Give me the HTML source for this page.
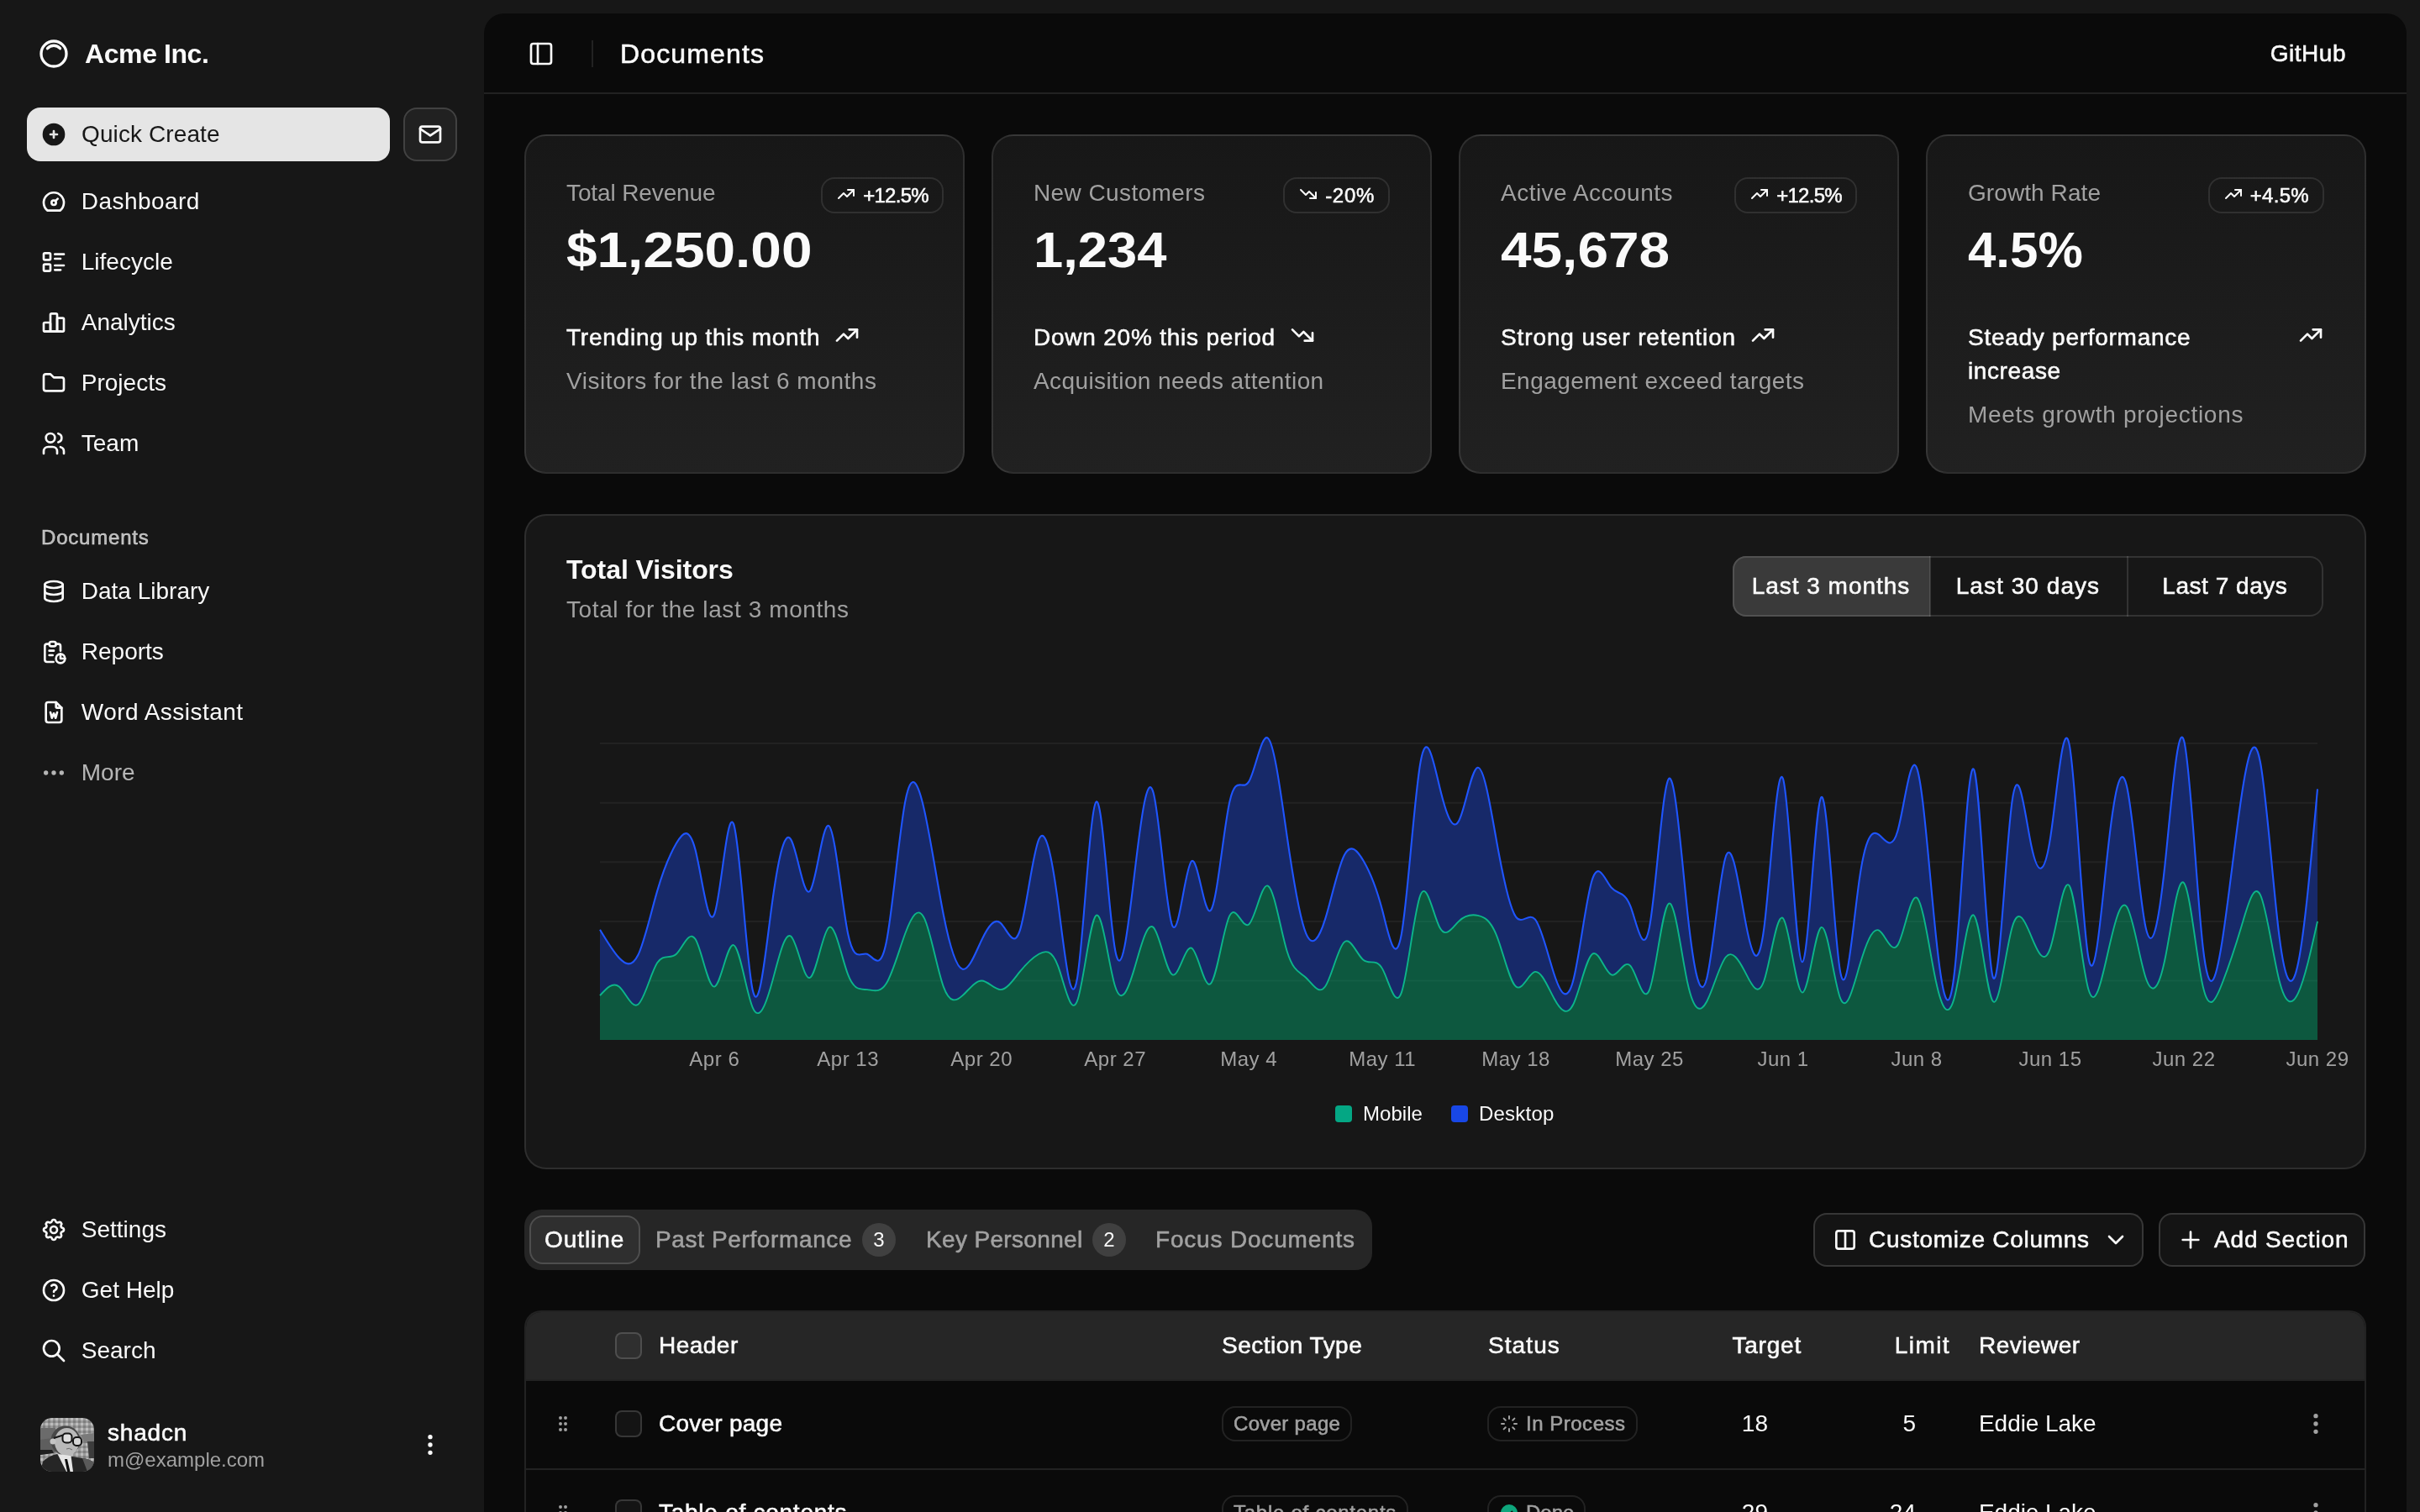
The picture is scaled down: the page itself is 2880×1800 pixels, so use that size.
<!DOCTYPE html>
<html><head><meta charset="utf-8">
<style>
*{box-sizing:border-box;margin:0;padding:0}
html,body{width:2880px;height:1800px;overflow:hidden;background:#171717}
body{font-family:"Liberation Sans",sans-serif;color:#fafafa}
#root{will-change:transform;zoom:2;position:relative;width:1440px;height:900px;overflow:hidden;background:#171717}
.abs{position:absolute}
.t{position:absolute;white-space:nowrap}
.card{position:absolute;border:1px solid rgba(255,255,255,0.1);border-radius:13px;background:#171717}
.sc{background:linear-gradient(to top, #212121, #171717)}
.m{-webkit-text-stroke:0.28px currentColor}
</style></head><body><div id="root">
<svg viewBox="0 0 24 24" style="position:absolute;fill:none;stroke:currentColor;stroke-width:2;stroke-linecap:round;stroke-linejoin:round;left:22px;top:22px;width:20px;height:20px"><circle cx="12" cy="12" r="9"/><path d="M7.5 8.2a6 6 0 0 1 9 0"/></svg>
<div class="t" style="left:50.5px;top:20px;font-size:16px;line-height:24px;font-weight:700;letter-spacing:-0.205px;">Acme Inc.</div>
<div class="abs" style="left:16px;top:64px;width:216px;height:32px;border-radius:8px;background:#e5e5e5"></div>
<svg viewBox="0 0 24 24" class="abs" style="left:24px;top:72px;width:16px;height:16px"><circle cx="12" cy="12" r="10" fill="#171717"/><path d="M12 9v6M9 12h6" stroke="#e5e5e5" stroke-width="2" stroke-linecap="round"/></svg>
<div class="t" style="left:48.5px;top:70px;font-size:14px;line-height:20px;font-weight:400;color:#171717;letter-spacing:0.054px;">Quick Create</div>
<div class="abs" style="left:240px;top:64px;width:32px;height:32px;border-radius:8px;border:1px solid rgba(255,255,255,0.15);background:rgba(255,255,255,0.045)"></div>
<svg viewBox="0 0 24 24" style="position:absolute;fill:none;stroke:currentColor;stroke-width:2;stroke-linecap:round;stroke-linejoin:round;left:248px;top:72px;width:16px;height:16px"><path d="M3 7a2 2 0 0 1 2 -2h14a2 2 0 0 1 2 2v10a2 2 0 0 1 -2 2h-14a2 2 0 0 1 -2 -2v-10z"/><path d="M3 7l9 6l9 -6"/></svg>
<svg viewBox="0 0 24 24" style="position:absolute;fill:none;stroke:currentColor;stroke-width:2;stroke-linecap:round;stroke-linejoin:round;left:24px;top:112px;width:16px;height:16px;"><path d="M12 13m-2 0a2 2 0 1 0 4 0a2 2 0 1 0 -4 0"/><path d="M13.45 11.55l2.05 -2.05"/><path d="M6.4 20a9 9 0 1 1 11.2 0z"/></svg>
<div class="t" style="left:48.4px;top:110px;font-size:14px;line-height:20px;font-weight:400;letter-spacing:0.225px;">Dashboard</div>
<svg viewBox="0 0 24 24" style="position:absolute;fill:none;stroke:currentColor;stroke-width:2;stroke-linecap:round;stroke-linejoin:round;left:24px;top:148px;width:16px;height:16px;"><path d="M13 5h8"/><path d="M13 9h5"/><path d="M13 15h8"/><path d="M13 19h5"/><path d="M3 4m0 1a1 1 0 0 1 1 -1h4a1 1 0 0 1 1 1v4a1 1 0 0 1 -1 1h-4a1 1 0 0 1 -1 -1z"/><path d="M3 14m0 1a1 1 0 0 1 1 -1h4a1 1 0 0 1 1 1v4a1 1 0 0 1 -1 1h-4a1 1 0 0 1 -1 -1z"/></svg>
<div class="t" style="left:48.4px;top:146px;font-size:14px;line-height:20px;font-weight:400;letter-spacing:0.000px;">Lifecycle</div>
<svg viewBox="0 0 24 24" style="position:absolute;fill:none;stroke:currentColor;stroke-width:2;stroke-linecap:round;stroke-linejoin:round;left:24px;top:184px;width:16px;height:16px;"><path d="M3 13a1 1 0 0 1 1 -1h4a1 1 0 0 1 1 1v6a1 1 0 0 1 -1 1h-4a1 1 0 0 1 -1 -1z"/><path d="M15 9a1 1 0 0 1 1 -1h4a1 1 0 0 1 1 1v10a1 1 0 0 1 -1 1h-4a1 1 0 0 1 -1 -1z"/><path d="M9 5a1 1 0 0 1 1 -1h4a1 1 0 0 1 1 1v14a1 1 0 0 1 -1 1h-4a1 1 0 0 1 -1 -1z"/><path d="M4 20h14"/></svg>
<div class="t" style="left:48.4px;top:182px;font-size:14px;line-height:20px;font-weight:400;letter-spacing:0.000px;">Analytics</div>
<svg viewBox="0 0 24 24" style="position:absolute;fill:none;stroke:currentColor;stroke-width:2;stroke-linecap:round;stroke-linejoin:round;left:24px;top:220px;width:16px;height:16px;"><path d="M5 4h4l3 3h7a2 2 0 0 1 2 2v8a2 2 0 0 1 -2 2h-14a2 2 0 0 1 -2 -2v-11a2 2 0 0 1 2 -2"/></svg>
<div class="t" style="left:48.4px;top:218px;font-size:14px;line-height:20px;font-weight:400;letter-spacing:0.000px;">Projects</div>
<svg viewBox="0 0 24 24" style="position:absolute;fill:none;stroke:currentColor;stroke-width:2;stroke-linecap:round;stroke-linejoin:round;left:24px;top:256px;width:16px;height:16px;"><path d="M9 7m-4 0a4 4 0 1 0 8 0a4 4 0 1 0 -8 0"/><path d="M3 21v-2a4 4 0 0 1 4 -4h4a4 4 0 0 1 4 4v2"/><path d="M16 3.13a4 4 0 0 1 0 7.75"/><path d="M21 21v-2a4 4 0 0 0 -3 -3.85"/></svg>
<div class="t" style="left:48.4px;top:254px;font-size:14px;line-height:20px;font-weight:400;letter-spacing:0.000px;">Team</div>
<svg viewBox="0 0 24 24" style="position:absolute;fill:none;stroke:currentColor;stroke-width:2;stroke-linecap:round;stroke-linejoin:round;left:24px;top:344px;width:16px;height:16px;"><path d="M12 6m-8 0a8 3 0 1 0 16 0a8 3 0 1 0 -16 0"/><path d="M4 6v6a8 3 0 0 0 16 0v-6"/><path d="M4 12v6a8 3 0 0 0 16 0v-6"/></svg>
<div class="t" style="left:48.4px;top:342px;font-size:14px;line-height:20px;font-weight:400;letter-spacing:0.000px;">Data Library</div>
<svg viewBox="0 0 24 24" style="position:absolute;fill:none;stroke:currentColor;stroke-width:2;stroke-linecap:round;stroke-linejoin:round;left:24px;top:380px;width:16px;height:16px;"><path d="M8 5h-2a2 2 0 0 0 -2 2v12a2 2 0 0 0 2 2h5.697"/><path d="M18 14v4h4"/><path d="M18 11v-4a2 2 0 0 0 -2 -2h-2"/><path d="M8 3m0 2a2 2 0 0 1 2 -2h2a2 2 0 0 1 2 2v0a2 2 0 0 1 -2 2h-2a2 2 0 0 1 -2 -2z"/><path d="M18 18m-4 0a4 4 0 1 0 8 0a4 4 0 1 0 -8 0"/><path d="M8 11h4"/><path d="M8 15h3"/></svg>
<div class="t" style="left:48.4px;top:378px;font-size:14px;line-height:20px;font-weight:400;letter-spacing:0.000px;">Reports</div>
<svg viewBox="0 0 24 24" style="position:absolute;fill:none;stroke:currentColor;stroke-width:2;stroke-linecap:round;stroke-linejoin:round;left:24px;top:416px;width:16px;height:16px;"><path d="M14 3v4a1 1 0 0 0 1 1h4"/><path d="M17 21h-10a2 2 0 0 1 -2 -2v-14a2 2 0 0 1 2 -2h7l5 5v11a2 2 0 0 1 -2 2z"/><path d="M9 12l1.333 5l1.667 -4l1.667 4l1.333 -5"/></svg>
<div class="t" style="left:48.4px;top:414px;font-size:14px;line-height:20px;font-weight:400;letter-spacing:0.230px;">Word Assistant</div>
<svg viewBox="0 0 24 24" style="position:absolute;fill:none;stroke:currentColor;stroke-width:2;stroke-linecap:round;stroke-linejoin:round;left:24px;top:452px;width:16px;height:16px;color:rgba(250,250,250,0.7);"><path d="M5 12m-1 0a1 1 0 1 0 2 0a1 1 0 1 0 -2 0"/><path d="M12 12m-1 0a1 1 0 1 0 2 0a1 1 0 1 0 -2 0"/><path d="M19 12m-1 0a1 1 0 1 0 2 0a1 1 0 1 0 -2 0"/></svg>
<div class="t" style="left:48.4px;top:450px;font-size:14px;line-height:20px;font-weight:400;color:rgba(250,250,250,0.7);letter-spacing:0.000px;">More</div>
<svg viewBox="0 0 24 24" style="position:absolute;fill:none;stroke:currentColor;stroke-width:2;stroke-linecap:round;stroke-linejoin:round;left:24px;top:724px;width:16px;height:16px;"><path d="M10.325 4.317c.426 -1.756 2.924 -1.756 3.35 0a1.724 1.724 0 0 0 2.573 1.066c1.543 -.94 3.31 .826 2.37 2.37a1.724 1.724 0 0 0 1.065 2.572c1.756 .426 1.756 2.924 0 3.35a1.724 1.724 0 0 0 -1.066 2.573c.94 1.543 -.826 3.31 -2.37 2.37a1.724 1.724 0 0 0 -2.572 1.065c-.426 1.756 -2.924 1.756 -3.35 0a1.724 1.724 0 0 0 -2.573 -1.066c-1.543 .94 -3.310 -.826 -2.37 -2.37a1.724 1.724 0 0 0 -1.065 -2.572c-1.756 -.426 -1.756 -2.924 0 -3.35a1.724 1.724 0 0 0 1.066 -2.573c-.94 -1.543 .826 -3.31 2.37 -2.37c1 .608 2.296 .07 2.572 -1.065z"/><path d="M9 12a3 3 0 1 0 6 0a3 3 0 0 0 -6 0"/></svg>
<div class="t" style="left:48.4px;top:722px;font-size:14px;line-height:20px;font-weight:400;letter-spacing:0.000px;">Settings</div>
<svg viewBox="0 0 24 24" style="position:absolute;fill:none;stroke:currentColor;stroke-width:2;stroke-linecap:round;stroke-linejoin:round;left:24px;top:760px;width:16px;height:16px;"><path d="M12 12m-9 0a9 9 0 1 0 18 0a9 9 0 1 0 -18 0"/><path d="M12 17l0 .01"/><path d="M12 13.5a1.5 1.5 0 0 1 1 -1.5a2.6 2.6 0 1 0 -3 -4"/></svg>
<div class="t" style="left:48.4px;top:758px;font-size:14px;line-height:20px;font-weight:400;letter-spacing:0.000px;">Get Help</div>
<svg viewBox="0 0 24 24" style="position:absolute;fill:none;stroke:currentColor;stroke-width:2;stroke-linecap:round;stroke-linejoin:round;left:24px;top:796px;width:16px;height:16px;"><path d="M10 10m-7 0a7 7 0 1 0 14 0a7 7 0 1 0 -14 0"/><path d="M21 21l-6 -6"/></svg>
<div class="t" style="left:48.4px;top:794px;font-size:14px;line-height:20px;font-weight:400;letter-spacing:0.000px;">Search</div>
<div class="t" style="left:24.5px;top:310px;font-size:12px;line-height:20px;font-weight:400;color:rgba(250,250,250,0.7);letter-spacing:0.400px;-webkit-text-stroke:0.28px currentColor;">Documents</div>
<svg class="abs" style="left:24px;top:844px;width:32px;height:32px" viewBox="0 0 64 64">
<defs><clipPath id="av"><rect x="0" y="0" width="64" height="64" rx="14"/></clipPath>
<pattern id="camo" width="6" height="6" patternUnits="userSpaceOnUse"><rect width="6" height="6" fill="#9a9a9a"/><rect width="3" height="3" fill="#bdbdbd"/><rect x="3" y="3" width="3" height="3" fill="#7f7f7f"/></pattern></defs>
<g clip-path="url(#av)">
<rect width="64" height="64" fill="url(#camo)"/>
<path d="M0 12 L18 12 L22 20 L14 26 L0 28Z" fill="#6b6b6b"/>
<path d="M0 26 L14 24 L20 40 L0 44Z" fill="#5e5e5e"/>
<path d="M48 20 L64 18 L64 30 L52 30Z" fill="#7a7a7a"/>
<path d="M56 28 L64 28 L64 48 L58 48Z" fill="#3c3c3c"/>
<path d="M0 38 L14 38 L16 42 L0 44Z" fill="#1f1f1f"/>
<circle cx="30" cy="27" r="17.5" fill="#474747"/>
<ellipse cx="31.5" cy="28.5" rx="14.5" ry="16.5" fill="#b9b9b9"/>
<circle cx="15" cy="28" r="3.5" fill="#c4c4c4"/>
<path d="M16 24 L27 20.5" stroke="#151515" stroke-width="2"/>
<rect x="26.5" y="18.5" width="11" height="11" rx="4" fill="#dedede" stroke="#151515" stroke-width="2"/>
<rect x="39" y="23" width="10" height="10" rx="4" fill="#d6d6d6" stroke="#151515" stroke-width="2"/>
<path d="M31 37 Q34 35 38 38" stroke="#6a6a6a" stroke-width="1" fill="none"/>
<path d="M0 64 L3 52 Q10 45 20 43 L30 47 L38 46 L50 48 Q60 49 64 54 L64 64Z" fill="#262626"/>
<path d="M50 48 Q60 49 64 54 L64 64 L56 64Z" fill="#5a5a5a"/>
<path d="M20.5 43 L31 64 L39 64 L36.5 45Z" fill="#e6e6e6"/>
<path d="M29 49 L32 49 L35.5 64 L32 64Z" fill="#0e0e0e"/>
</g></svg>
<div class="t" style="left:64px;top:843.75px;font-size:14px;line-height:17.5px;font-weight:400;letter-spacing:0.400px;-webkit-text-stroke:0.28px currentColor;">shadcn</div>
<div class="t" style="left:64px;top:861.25px;font-size:12px;line-height:15px;font-weight:400;color:#a1a1a1;letter-spacing:0.000px;">m@example.com</div>
<svg viewBox="0 0 24 24" style="position:absolute;fill:none;stroke:currentColor;stroke-width:2;stroke-linecap:round;stroke-linejoin:round;left:248px;top:852px;width:16px;height:16px"><path d="M12 12m-1 0a1 1 0 1 0 2 0a1 1 0 1 0 -2 0"/><path d="M12 19m-1 0a1 1 0 1 0 2 0a1 1 0 1 0 -2 0"/><path d="M12 5m-1 0a1 1 0 1 0 2 0a1 1 0 1 0 -2 0"/></svg>
<div class="abs" style="left:288px;top:8px;width:1144px;height:900px;background:#0a0a0a;border-radius:12px 12px 0 0"></div>
<div class="abs" style="left:288px;top:55px;width:1144px;height:1px;background:rgba(255,255,255,0.1)"></div>
<svg viewBox="0 0 24 24" style="position:absolute;fill:none;stroke:currentColor;stroke-width:2;stroke-linecap:round;stroke-linejoin:round;left:314px;top:24px;width:16px;height:16px"><rect width="18" height="18" x="3" y="3" rx="2"/><path d="M9 3v18"/></svg>
<div class="abs" style="left:352px;top:24px;width:1px;height:16px;background:rgba(255,255,255,0.1)"></div>
<div class="t" style="left:369px;top:20px;font-size:16px;line-height:24px;font-weight:400;letter-spacing:0.572px;-webkit-text-stroke:0.28px currentColor;">Documents</div>
<div class="t" style="left:1296px;top:22px;width:100px;text-align:right;font-size:14px;line-height:20px;letter-spacing:0.250px;-webkit-text-stroke:0.28px currentColor;">GitHub</div>
<div class="card sc" style="left:312px;top:80px;width:262px;height:202px">
<div class="t" style="left:24px;top:24px;font-size:14px;line-height:20px;font-weight:400;color:#a1a1a1;letter-spacing:-0.060px;">Total Revenue</div>
<div class="t" style="right:11.5px;top:24.5px;height:21.5px;border:1px solid rgba(255,255,255,0.1);border-radius:8px;font-size:12px;line-height:16px;padding:2px 8px;letter-spacing:-0.350px;-webkit-text-stroke:0.28px currentColor;"><svg viewBox="0 0 24 24" style="fill:none;stroke:currentColor;stroke-width:2;stroke-linecap:round;stroke-linejoin:round;display:inline-block;width:12px;height:12px;vertical-align:-1px;margin-right:4px"><path d="M3 17l6 -6l4 4l8 -8"/><path d="M14 7l7 0l0 7"/></svg>+12.5%</div>
<div class="t" style="left:24px;top:50px;font-size:30px;line-height:36px;font-weight:700;transform:scaleX(1.0956);transform-origin:0 0">$1,250.00</div>
<div class="t" style="left:24px;top:110px;font-size:14px;line-height:20px;display:flex;gap:8px"><span style="letter-spacing:0.386px;-webkit-text-stroke:0.28px currentColor;">Trending up this month</span><svg viewBox="0 0 24 24" style="fill:none;stroke:currentColor;stroke-width:2;stroke-linecap:round;stroke-linejoin:round;width:16px;height:16px;margin-top:0.5px"><path d="M3 17l6 -6l4 4l8 -8"/><path d="M14 7l7 0l0 7"/></svg></div>
<div class="t" style="left:24px;top:136px;font-size:14px;line-height:20px;font-weight:400;color:#a1a1a1;letter-spacing:0.280px;">Visitors for the last 6 months</div>
</div>
<div class="card sc" style="left:590px;top:80px;width:262px;height:202px">
<div class="t" style="left:24px;top:24px;font-size:14px;line-height:20px;font-weight:400;color:#a1a1a1;letter-spacing:0.202px;">New Customers</div>
<div class="t" style="right:24px;top:24.5px;height:21.5px;border:1px solid rgba(255,255,255,0.1);border-radius:8px;font-size:12px;line-height:16px;padding:2px 8px;letter-spacing:0.350px;-webkit-text-stroke:0.28px currentColor;"><svg viewBox="0 0 24 24" style="fill:none;stroke:currentColor;stroke-width:2;stroke-linecap:round;stroke-linejoin:round;display:inline-block;width:12px;height:12px;vertical-align:-1px;margin-right:4px"><path d="M3 7l6 6l4 -4l8 8"/><path d="M21 10l0 7l-7 0"/></svg>-20%</div>
<div class="t" style="left:24px;top:50px;font-size:30px;line-height:36px;font-weight:700;transform:scaleX(1.0551);transform-origin:0 0">1,234</div>
<div class="t" style="left:24px;top:110px;font-size:14px;line-height:20px;display:flex;gap:8px"><span style="letter-spacing:0.390px;-webkit-text-stroke:0.28px currentColor;">Down 20% this period</span><svg viewBox="0 0 24 24" style="fill:none;stroke:currentColor;stroke-width:2;stroke-linecap:round;stroke-linejoin:round;width:16px;height:16px;margin-top:0.5px"><path d="M3 7l6 6l4 -4l8 8"/><path d="M21 10l0 7l-7 0"/></svg></div>
<div class="t" style="left:24px;top:136px;font-size:14px;line-height:20px;font-weight:400;color:#a1a1a1;letter-spacing:0.202px;">Acquisition needs attention</div>
</div>
<div class="card sc" style="left:868px;top:80px;width:262px;height:202px">
<div class="t" style="left:24px;top:24px;font-size:14px;line-height:20px;font-weight:400;color:#a1a1a1;letter-spacing:0.243px;">Active Accounts</div>
<div class="t" style="right:24px;top:24.5px;height:21.5px;border:1px solid rgba(255,255,255,0.1);border-radius:8px;font-size:12px;line-height:16px;padding:2px 8px;letter-spacing:-0.350px;-webkit-text-stroke:0.28px currentColor;"><svg viewBox="0 0 24 24" style="fill:none;stroke:currentColor;stroke-width:2;stroke-linecap:round;stroke-linejoin:round;display:inline-block;width:12px;height:12px;vertical-align:-1px;margin-right:4px"><path d="M3 17l6 -6l4 4l8 -8"/><path d="M14 7l7 0l0 7"/></svg>+12.5%</div>
<div class="t" style="left:24px;top:50px;font-size:30px;line-height:36px;font-weight:700;transform:scaleX(1.0956);transform-origin:0 0">45,678</div>
<div class="t" style="left:24px;top:110px;font-size:14px;line-height:20px;display:flex;gap:8px"><span style="letter-spacing:0.442px;-webkit-text-stroke:0.28px currentColor;">Strong user retention</span><svg viewBox="0 0 24 24" style="fill:none;stroke:currentColor;stroke-width:2;stroke-linecap:round;stroke-linejoin:round;width:16px;height:16px;margin-top:0.5px"><path d="M3 17l6 -6l4 4l8 -8"/><path d="M14 7l7 0l0 7"/></svg></div>
<div class="t" style="left:24px;top:136px;font-size:14px;line-height:20px;font-weight:400;color:#a1a1a1;letter-spacing:0.224px;">Engagement exceed targets</div>
</div>
<div class="card sc" style="left:1146px;top:80px;width:262px;height:202px">
<div class="t" style="left:24px;top:24px;font-size:14px;line-height:20px;font-weight:400;color:#a1a1a1;letter-spacing:0.040px;">Growth Rate</div>
<div class="t" style="right:24px;top:24.5px;height:21.5px;border:1px solid rgba(255,255,255,0.1);border-radius:8px;font-size:12px;line-height:16px;padding:2px 8px;letter-spacing:0.150px;-webkit-text-stroke:0.28px currentColor;"><svg viewBox="0 0 24 24" style="fill:none;stroke:currentColor;stroke-width:2;stroke-linecap:round;stroke-linejoin:round;display:inline-block;width:12px;height:12px;vertical-align:-1px;margin-right:4px"><path d="M3 17l6 -6l4 4l8 -8"/><path d="M14 7l7 0l0 7"/></svg>+4.5%</div>
<div class="t" style="left:24px;top:50px;font-size:30px;line-height:36px;font-weight:700;transform:scaleX(1.0000);transform-origin:0 0">4.5%</div>
<div class="t" style="left:24px;top:110px;font-size:14px;line-height:20px;font-weight:400;letter-spacing:0.366px;-webkit-text-stroke:0.28px currentColor;">Steady performance</div>
<div class="t" style="left:24px;top:130px;font-size:14px;line-height:20px;font-weight:400;letter-spacing:0.303px;-webkit-text-stroke:0.28px currentColor;">increase</div>
<svg viewBox="0 0 24 24" style="position:absolute;fill:none;stroke:currentColor;stroke-width:2;stroke-linecap:round;stroke-linejoin:round;left:220px;top:110.5px;width:16px;height:16px"><path d="M3 17l6 -6l4 4l8 -8"/><path d="M14 7l7 0l0 7"/></svg>
<div class="t" style="left:24px;top:156px;font-size:14px;line-height:20px;font-weight:400;color:#a1a1a1;letter-spacing:0.351px;">Meets growth projections</div>
</div>
<div class="card" style="left:312px;top:306px;width:1096px;height:390px"></div>
<div class="t" style="left:337px;top:331px;font-size:16px;line-height:16px;font-weight:700;letter-spacing:-0.037px;">Total Visitors</div>
<div class="t" style="left:337px;top:353px;font-size:14px;line-height:20px;font-weight:400;color:#a1a1a1;letter-spacing:0.296px;">Total for the last 3 months</div>
<div class="abs" style="left:1031px;top:331px;width:351.5px;height:36px;border:1px solid rgba(255,255,255,0.12);border-radius:8px;overflow:hidden"></div>
<div class="abs" style="left:1031px;top:331px;width:117.5px;height:36px;background:#3a3a3a;border-radius:8px 0 0 8px;border:1px solid rgba(255,255,255,0.12);border-right:none"></div>
<div class="abs" style="left:1148px;top:331px;width:1px;height:36px;background:rgba(255,255,255,0.12)"></div>
<div class="abs" style="left:1265.5px;top:331px;width:1px;height:36px;background:rgba(255,255,255,0.12)"></div>
<div class="t" style="left:1031.0px;top:339px;width:117px;text-align:center;font-size:14px;line-height:20px;letter-spacing:0.484px;-webkit-text-stroke:0.28px currentColor;">Last 3 months</div>
<div class="t" style="left:1148.2px;top:339px;width:117px;text-align:center;font-size:14px;line-height:20px;letter-spacing:0.529px;-webkit-text-stroke:0.28px currentColor;">Last 30 days</div>
<div class="t" style="left:1265.4px;top:339px;width:117px;text-align:center;font-size:14px;line-height:20px;letter-spacing:0.265px;-webkit-text-stroke:0.28px currentColor;">Last 7 days</div>
<svg class="abs" style="left:337px;top:421px;width:1046px;height:280px;overflow:visible" viewBox="674 842 2092 560">
<line x1="714" x2="2758" y1="885.1" y2="885.1" stroke="rgba(255,255,255,0.05)" stroke-width="2"/>
<line x1="714" x2="2758" y1="955.7" y2="955.7" stroke="rgba(255,255,255,0.05)" stroke-width="2"/>
<line x1="714" x2="2758" y1="1026.3" y2="1026.3" stroke="rgba(255,255,255,0.05)" stroke-width="2"/>
<line x1="714" x2="2758" y1="1096.9" y2="1096.9" stroke="rgba(255,255,255,0.05)" stroke-width="2"/>
<line x1="714" x2="2758" y1="1167.5" y2="1167.5" stroke="rgba(255,255,255,0.05)" stroke-width="2"/>
<path d="M714.00,1185.15C721.57,1176.78 729.14,1168.41 736.71,1174.56C744.28,1180.71 751.85,1201.38 759.42,1195.74C766.99,1190.10 774.56,1158.14 782.13,1146.32C789.70,1134.50 797.27,1142.81 804.84,1135.73C812.41,1128.65 819.99,1106.16 827.56,1118.08C835.13,1130.00 842.70,1176.32 850.27,1174.56C857.84,1172.80 865.41,1122.94 872.98,1125.14C880.55,1127.34 888.12,1181.59 895.69,1199.27C903.26,1216.95 910.83,1198.05 918.40,1171.03C925.97,1144.01 933.54,1108.86 941.11,1114.55C948.68,1120.24 956.25,1166.77 963.82,1163.97C971.39,1161.17 978.96,1109.05 986.53,1103.96C994.10,1098.87 1001.67,1140.81 1009.24,1160.44C1016.81,1180.07 1024.39,1177.39 1031.96,1178.09C1039.53,1178.79 1047.10,1182.87 1054.67,1171.03C1062.24,1159.19 1069.81,1131.43 1077.38,1111.02C1084.95,1090.61 1092.52,1077.57 1100.09,1093.37C1107.66,1109.17 1115.23,1153.83 1122.80,1174.56C1130.37,1195.29 1137.94,1192.11 1145.51,1185.15C1153.08,1178.19 1160.65,1167.45 1168.22,1167.50C1175.79,1167.55 1183.36,1178.40 1190.93,1178.09C1198.50,1177.78 1206.07,1166.33 1213.64,1156.91C1221.21,1147.49 1228.79,1140.10 1236.36,1135.73C1243.93,1131.36 1251.50,1130.00 1259.07,1149.85C1266.64,1169.70 1274.21,1210.75 1281.78,1192.21C1289.35,1173.67 1296.92,1095.53 1304.49,1089.84C1312.06,1084.15 1319.63,1150.91 1327.20,1174.56C1334.77,1198.21 1342.34,1178.75 1349.91,1153.38C1357.48,1128.01 1365.05,1096.72 1372.62,1103.96C1380.19,1111.20 1387.76,1156.95 1395.33,1160.44C1402.90,1163.93 1410.47,1125.15 1418.04,1128.67C1425.61,1132.19 1433.19,1178.02 1440.76,1171.03C1448.33,1164.04 1455.90,1104.23 1463.47,1089.84C1471.04,1075.45 1478.61,1106.47 1486.18,1100.43C1493.75,1094.39 1501.32,1051.28 1508.89,1054.54C1516.46,1057.80 1524.03,1107.42 1531.60,1132.20C1539.17,1156.98 1546.74,1156.92 1554.31,1163.97C1561.88,1171.02 1569.45,1185.20 1577.02,1174.56C1584.59,1163.92 1592.16,1128.47 1599.73,1121.61C1607.30,1114.75 1614.87,1136.48 1622.44,1142.79C1630.01,1149.10 1637.59,1140.01 1645.16,1153.38C1652.73,1166.75 1660.30,1202.59 1667.87,1181.62C1675.44,1160.65 1683.01,1082.86 1690.58,1065.13C1698.15,1047.40 1705.72,1089.72 1713.29,1103.96C1720.86,1118.20 1728.43,1104.35 1736.00,1096.90C1743.57,1089.45 1751.14,1088.38 1758.71,1089.84C1766.28,1091.30 1773.85,1095.27 1781.42,1114.55C1788.99,1133.83 1796.56,1168.42 1804.13,1174.56C1811.70,1180.70 1819.27,1158.39 1826.84,1156.91C1834.41,1155.43 1841.99,1174.78 1849.56,1188.68C1857.13,1202.58 1864.70,1211.02 1872.27,1195.74C1879.84,1180.46 1887.41,1141.44 1894.98,1135.73C1902.55,1130.02 1910.12,1157.62 1917.69,1160.44C1925.26,1163.26 1932.83,1141.32 1940.40,1149.85C1947.97,1158.38 1955.54,1197.39 1963.11,1178.09C1970.68,1158.79 1978.25,1081.17 1985.82,1075.72C1993.39,1070.27 2000.96,1136.99 2008.53,1171.03C2016.10,1205.07 2023.67,1206.42 2031.24,1192.21C2038.81,1178.00 2046.39,1148.21 2053.96,1139.26C2061.53,1130.31 2069.10,1142.18 2076.67,1156.91C2084.24,1171.64 2091.81,1189.23 2099.38,1167.50C2106.95,1145.77 2114.52,1084.73 2122.09,1093.37C2129.66,1102.01 2137.23,1180.32 2144.80,1181.62C2152.37,1182.92 2159.94,1107.20 2167.51,1103.96C2175.08,1100.72 2182.65,1169.95 2190.22,1188.68C2197.79,1207.41 2205.36,1175.62 2212.93,1149.85C2220.50,1124.08 2228.07,1104.31 2235.64,1107.49C2243.21,1110.67 2250.79,1136.80 2258.36,1125.14C2265.93,1113.48 2273.50,1064.03 2281.07,1068.66C2288.64,1073.29 2296.21,1132.01 2303.78,1167.50C2311.35,1202.99 2318.92,1215.24 2326.49,1185.15C2334.06,1155.06 2341.63,1082.61 2349.20,1089.84C2356.77,1097.07 2364.34,1183.98 2371.91,1192.21C2379.48,1200.44 2387.05,1130.01 2394.62,1103.96C2402.19,1077.91 2409.76,1096.25 2417.33,1114.55C2424.90,1132.85 2432.47,1151.13 2440.04,1128.67C2447.61,1106.21 2455.19,1043.03 2462.76,1054.54C2470.33,1066.05 2477.90,1152.26 2485.47,1178.09C2493.04,1203.92 2500.61,1169.36 2508.18,1135.73C2515.75,1102.10 2523.32,1069.39 2530.89,1079.25C2538.46,1089.11 2546.03,1141.54 2553.60,1163.97C2561.17,1186.40 2568.74,1178.83 2576.31,1142.79C2583.88,1106.75 2591.45,1042.23 2599.02,1051.01C2606.59,1059.79 2614.16,1141.88 2621.73,1174.56C2629.30,1207.24 2636.87,1190.52 2644.44,1171.03C2652.01,1151.54 2659.59,1129.27 2667.16,1103.96C2674.73,1078.65 2682.30,1050.30 2689.87,1065.13C2697.44,1079.96 2705.01,1137.96 2712.58,1167.50C2720.15,1197.04 2727.72,1198.13 2735.29,1181.62C2742.86,1165.11 2750.43,1131.01 2758.00,1096.90L2758.00,1238.10L714.00,1238.10Z" fill="#00bc7d" fill-opacity="0.4"/>
<path d="M714.00,1106.78C721.57,1119.46 729.14,1132.14 736.71,1140.32C744.28,1148.50 751.85,1152.17 759.42,1136.79C766.99,1121.41 774.56,1086.97 782.13,1060.89C789.70,1034.82 797.27,1017.12 804.84,1004.06C812.41,991.00 819.99,982.60 827.56,1011.83C835.13,1041.06 842.70,1107.92 850.27,1088.07C857.84,1068.23 865.41,961.66 872.98,980.76C880.55,999.87 888.12,1144.64 895.69,1178.44C903.26,1212.25 910.83,1135.09 918.40,1078.90C925.97,1022.71 933.54,987.48 941.11,999.12C948.68,1010.75 956.25,1069.25 963.82,1060.89C971.39,1052.54 978.96,977.34 986.53,983.23C994.10,989.12 1001.67,1076.10 1009.24,1112.08C1016.81,1148.06 1024.39,1133.03 1031.96,1135.73C1039.53,1138.43 1047.10,1158.85 1054.67,1122.32C1062.24,1085.78 1069.81,992.29 1077.38,953.58C1084.95,914.88 1092.52,930.96 1100.09,964.88C1107.66,998.80 1115.23,1050.55 1122.80,1088.78C1130.37,1127.01 1137.94,1151.73 1145.51,1153.73C1153.08,1155.74 1160.65,1135.03 1168.22,1119.14C1175.79,1103.25 1183.36,1092.18 1190.93,1099.02C1198.50,1105.86 1206.07,1130.62 1213.64,1108.20C1221.21,1085.77 1228.79,1016.17 1236.36,999.12C1243.93,982.06 1251.50,1017.56 1259.07,1073.95C1266.64,1130.35 1274.21,1207.65 1281.78,1165.73C1289.35,1123.82 1296.92,962.68 1304.49,954.64C1312.06,946.61 1319.63,1091.68 1327.20,1131.49C1334.77,1171.31 1342.34,1105.87 1349.91,1042.18C1357.48,978.50 1365.05,916.58 1372.62,943.70C1380.19,970.82 1387.76,1086.98 1395.33,1102.19C1402.90,1117.41 1410.47,1031.66 1418.04,1025.24C1425.61,1018.82 1433.19,1091.73 1440.76,1083.84C1448.33,1075.95 1455.90,987.27 1463.47,953.93C1471.04,920.60 1478.61,942.63 1486.18,930.64C1493.75,918.65 1501.32,872.65 1508.89,878.75C1516.46,884.85 1524.03,943.05 1531.60,995.24C1539.17,1047.43 1546.74,1093.60 1554.31,1111.37C1561.88,1129.14 1569.45,1118.50 1577.02,1094.43C1584.59,1070.36 1592.16,1032.85 1599.73,1018.18C1607.30,1003.52 1614.87,1011.69 1622.44,1024.53C1630.01,1037.38 1637.59,1054.88 1645.16,1083.84C1652.73,1112.79 1660.30,1153.20 1667.87,1112.08C1675.44,1070.96 1683.01,948.32 1690.58,906.99C1698.15,865.66 1705.72,905.64 1713.29,936.99C1720.86,968.34 1728.43,991.07 1736.00,977.59C1743.57,964.10 1751.14,914.42 1758.71,913.69C1766.28,912.97 1773.85,961.21 1781.42,1003.35C1788.99,1045.50 1796.56,1081.56 1804.13,1091.61C1811.70,1101.65 1819.27,1085.67 1826.84,1094.43C1834.41,1103.18 1841.99,1136.66 1849.56,1159.73C1857.13,1182.80 1864.70,1195.46 1872.27,1167.15C1879.84,1138.83 1887.41,1069.54 1894.98,1046.77C1902.55,1024.01 1910.12,1047.77 1917.69,1056.66C1925.26,1065.55 1932.83,1059.57 1940.40,1078.90C1947.97,1098.23 1955.54,1142.87 1963.11,1102.90C1970.68,1062.93 1978.25,938.36 1985.82,927.46C1993.39,916.56 2000.96,1019.35 2008.53,1088.78C2016.10,1158.21 2023.67,1194.30 2031.24,1164.68C2038.81,1135.05 2046.39,1039.73 2053.96,1019.24C2061.53,998.75 2069.10,1053.10 2076.67,1094.08C2084.24,1135.05 2091.81,1162.66 2099.38,1104.67C2106.95,1046.67 2114.52,903.07 2122.09,927.46C2129.66,951.85 2137.23,1144.25 2144.80,1145.26C2152.37,1146.28 2159.94,955.92 2167.51,948.99C2175.08,942.07 2182.65,1118.59 2190.22,1157.62C2197.79,1196.65 2205.36,1098.19 2212.93,1046.07C2220.50,993.94 2228.07,988.15 2235.64,993.47C2243.21,998.79 2250.79,1015.23 2258.36,989.23C2265.93,963.24 2273.50,894.83 2281.07,914.05C2288.64,933.26 2296.21,1040.11 2303.78,1112.78C2311.35,1185.46 2318.92,1223.97 2326.49,1152.67C2334.06,1081.38 2341.63,900.27 2349.20,916.16C2356.77,932.06 2364.34,1144.95 2371.91,1163.62C2379.48,1182.28 2387.05,1006.71 2394.62,953.58C2402.19,900.46 2409.76,969.77 2417.33,1006.18C2424.90,1042.58 2432.47,1046.08 2440.04,997.71C2447.61,949.34 2455.19,849.10 2462.76,886.87C2470.33,924.63 2477.90,1100.38 2485.47,1140.32C2493.04,1180.26 2500.61,1084.38 2508.18,1015.36C2515.75,946.34 2523.32,904.18 2530.89,935.23C2538.46,966.27 2546.03,1070.53 2553.60,1104.31C2561.17,1138.09 2568.74,1101.40 2576.31,1030.89C2583.88,960.38 2591.45,856.05 2599.02,881.57C2606.59,907.09 2614.16,1062.46 2621.73,1127.96C2629.30,1193.46 2636.87,1169.09 2644.44,1121.26C2652.01,1073.43 2659.59,1002.14 2667.16,950.76C2674.73,899.38 2682.30,867.91 2689.87,906.99C2697.44,946.06 2705.01,1055.69 2712.58,1114.90C2720.15,1174.11 2727.72,1182.90 2735.29,1145.26C2742.86,1107.62 2750.43,1023.54 2758.00,939.46L2758.00,1096.90C2750.43,1131.01 2742.86,1165.11 2735.29,1181.62C2727.72,1198.13 2720.15,1197.04 2712.58,1167.50C2705.01,1137.96 2697.44,1079.96 2689.87,1065.13C2682.30,1050.30 2674.73,1078.65 2667.16,1103.96C2659.59,1129.27 2652.01,1151.54 2644.44,1171.03C2636.87,1190.52 2629.30,1207.24 2621.73,1174.56C2614.16,1141.88 2606.59,1059.79 2599.02,1051.01C2591.45,1042.23 2583.88,1106.75 2576.31,1142.79C2568.74,1178.83 2561.17,1186.40 2553.60,1163.97C2546.03,1141.54 2538.46,1089.11 2530.89,1079.25C2523.32,1069.39 2515.75,1102.10 2508.18,1135.73C2500.61,1169.36 2493.04,1203.92 2485.47,1178.09C2477.90,1152.26 2470.33,1066.05 2462.76,1054.54C2455.19,1043.03 2447.61,1106.21 2440.04,1128.67C2432.47,1151.13 2424.90,1132.85 2417.33,1114.55C2409.76,1096.25 2402.19,1077.91 2394.62,1103.96C2387.05,1130.01 2379.48,1200.44 2371.91,1192.21C2364.34,1183.98 2356.77,1097.07 2349.20,1089.84C2341.63,1082.61 2334.06,1155.06 2326.49,1185.15C2318.92,1215.24 2311.35,1202.99 2303.78,1167.50C2296.21,1132.01 2288.64,1073.29 2281.07,1068.66C2273.50,1064.03 2265.93,1113.48 2258.36,1125.14C2250.79,1136.80 2243.21,1110.67 2235.64,1107.49C2228.07,1104.31 2220.50,1124.08 2212.93,1149.85C2205.36,1175.62 2197.79,1207.41 2190.22,1188.68C2182.65,1169.95 2175.08,1100.72 2167.51,1103.96C2159.94,1107.20 2152.37,1182.92 2144.80,1181.62C2137.23,1180.32 2129.66,1102.01 2122.09,1093.37C2114.52,1084.73 2106.95,1145.77 2099.38,1167.50C2091.81,1189.23 2084.24,1171.64 2076.67,1156.91C2069.10,1142.18 2061.53,1130.31 2053.96,1139.26C2046.39,1148.21 2038.81,1178.00 2031.24,1192.21C2023.67,1206.42 2016.10,1205.07 2008.53,1171.03C2000.96,1136.99 1993.39,1070.27 1985.82,1075.72C1978.25,1081.17 1970.68,1158.79 1963.11,1178.09C1955.54,1197.39 1947.97,1158.38 1940.40,1149.85C1932.83,1141.32 1925.26,1163.26 1917.69,1160.44C1910.12,1157.62 1902.55,1130.02 1894.98,1135.73C1887.41,1141.44 1879.84,1180.46 1872.27,1195.74C1864.70,1211.02 1857.13,1202.58 1849.56,1188.68C1841.99,1174.78 1834.41,1155.43 1826.84,1156.91C1819.27,1158.39 1811.70,1180.70 1804.13,1174.56C1796.56,1168.42 1788.99,1133.83 1781.42,1114.55C1773.85,1095.27 1766.28,1091.30 1758.71,1089.84C1751.14,1088.38 1743.57,1089.45 1736.00,1096.90C1728.43,1104.35 1720.86,1118.20 1713.29,1103.96C1705.72,1089.72 1698.15,1047.40 1690.58,1065.13C1683.01,1082.86 1675.44,1160.65 1667.87,1181.62C1660.30,1202.59 1652.73,1166.75 1645.16,1153.38C1637.59,1140.01 1630.01,1149.10 1622.44,1142.79C1614.87,1136.48 1607.30,1114.75 1599.73,1121.61C1592.16,1128.47 1584.59,1163.92 1577.02,1174.56C1569.45,1185.20 1561.88,1171.02 1554.31,1163.97C1546.74,1156.92 1539.17,1156.98 1531.60,1132.20C1524.03,1107.42 1516.46,1057.80 1508.89,1054.54C1501.32,1051.28 1493.75,1094.39 1486.18,1100.43C1478.61,1106.47 1471.04,1075.45 1463.47,1089.84C1455.90,1104.23 1448.33,1164.04 1440.76,1171.03C1433.19,1178.02 1425.61,1132.19 1418.04,1128.67C1410.47,1125.15 1402.90,1163.93 1395.33,1160.44C1387.76,1156.95 1380.19,1111.20 1372.62,1103.96C1365.05,1096.72 1357.48,1128.01 1349.91,1153.38C1342.34,1178.75 1334.77,1198.21 1327.20,1174.56C1319.63,1150.91 1312.06,1084.15 1304.49,1089.84C1296.92,1095.53 1289.35,1173.67 1281.78,1192.21C1274.21,1210.75 1266.64,1169.70 1259.07,1149.85C1251.50,1130.00 1243.93,1131.36 1236.36,1135.73C1228.79,1140.10 1221.21,1147.49 1213.64,1156.91C1206.07,1166.33 1198.50,1177.78 1190.93,1178.09C1183.36,1178.40 1175.79,1167.55 1168.22,1167.50C1160.65,1167.45 1153.08,1178.19 1145.51,1185.15C1137.94,1192.11 1130.37,1195.29 1122.80,1174.56C1115.23,1153.83 1107.66,1109.17 1100.09,1093.37C1092.52,1077.57 1084.95,1090.61 1077.38,1111.02C1069.81,1131.43 1062.24,1159.19 1054.67,1171.03C1047.10,1182.87 1039.53,1178.79 1031.96,1178.09C1024.39,1177.39 1016.81,1180.07 1009.24,1160.44C1001.67,1140.81 994.10,1098.87 986.53,1103.96C978.96,1109.05 971.39,1161.17 963.82,1163.97C956.25,1166.77 948.68,1120.24 941.11,1114.55C933.54,1108.86 925.97,1144.01 918.40,1171.03C910.83,1198.05 903.26,1216.95 895.69,1199.27C888.12,1181.59 880.55,1127.34 872.98,1125.14C865.41,1122.94 857.84,1172.80 850.27,1174.56C842.70,1176.32 835.13,1130.00 827.56,1118.08C819.99,1106.16 812.41,1128.65 804.84,1135.73C797.27,1142.81 789.70,1134.50 782.13,1146.32C774.56,1158.14 766.99,1190.10 759.42,1195.74C751.85,1201.38 744.28,1180.71 736.71,1174.56C729.14,1168.41 721.57,1176.78 714.00,1185.15Z" fill="#172969"/>
<path d="M714.00,1185.15C721.57,1176.78 729.14,1168.41 736.71,1174.56C744.28,1180.71 751.85,1201.38 759.42,1195.74C766.99,1190.10 774.56,1158.14 782.13,1146.32C789.70,1134.50 797.27,1142.81 804.84,1135.73C812.41,1128.65 819.99,1106.16 827.56,1118.08C835.13,1130.00 842.70,1176.32 850.27,1174.56C857.84,1172.80 865.41,1122.94 872.98,1125.14C880.55,1127.34 888.12,1181.59 895.69,1199.27C903.26,1216.95 910.83,1198.05 918.40,1171.03C925.97,1144.01 933.54,1108.86 941.11,1114.55C948.68,1120.24 956.25,1166.77 963.82,1163.97C971.39,1161.17 978.96,1109.05 986.53,1103.96C994.10,1098.87 1001.67,1140.81 1009.24,1160.44C1016.81,1180.07 1024.39,1177.39 1031.96,1178.09C1039.53,1178.79 1047.10,1182.87 1054.67,1171.03C1062.24,1159.19 1069.81,1131.43 1077.38,1111.02C1084.95,1090.61 1092.52,1077.57 1100.09,1093.37C1107.66,1109.17 1115.23,1153.83 1122.80,1174.56C1130.37,1195.29 1137.94,1192.11 1145.51,1185.15C1153.08,1178.19 1160.65,1167.45 1168.22,1167.50C1175.79,1167.55 1183.36,1178.40 1190.93,1178.09C1198.50,1177.78 1206.07,1166.33 1213.64,1156.91C1221.21,1147.49 1228.79,1140.10 1236.36,1135.73C1243.93,1131.36 1251.50,1130.00 1259.07,1149.85C1266.64,1169.70 1274.21,1210.75 1281.78,1192.21C1289.35,1173.67 1296.92,1095.53 1304.49,1089.84C1312.06,1084.15 1319.63,1150.91 1327.20,1174.56C1334.77,1198.21 1342.34,1178.75 1349.91,1153.38C1357.48,1128.01 1365.05,1096.72 1372.62,1103.96C1380.19,1111.20 1387.76,1156.95 1395.33,1160.44C1402.90,1163.93 1410.47,1125.15 1418.04,1128.67C1425.61,1132.19 1433.19,1178.02 1440.76,1171.03C1448.33,1164.04 1455.90,1104.23 1463.47,1089.84C1471.04,1075.45 1478.61,1106.47 1486.18,1100.43C1493.75,1094.39 1501.32,1051.28 1508.89,1054.54C1516.46,1057.80 1524.03,1107.42 1531.60,1132.20C1539.17,1156.98 1546.74,1156.92 1554.31,1163.97C1561.88,1171.02 1569.45,1185.20 1577.02,1174.56C1584.59,1163.92 1592.16,1128.47 1599.73,1121.61C1607.30,1114.75 1614.87,1136.48 1622.44,1142.79C1630.01,1149.10 1637.59,1140.01 1645.16,1153.38C1652.73,1166.75 1660.30,1202.59 1667.87,1181.62C1675.44,1160.65 1683.01,1082.86 1690.58,1065.13C1698.15,1047.40 1705.72,1089.72 1713.29,1103.96C1720.86,1118.20 1728.43,1104.35 1736.00,1096.90C1743.57,1089.45 1751.14,1088.38 1758.71,1089.84C1766.28,1091.30 1773.85,1095.27 1781.42,1114.55C1788.99,1133.83 1796.56,1168.42 1804.13,1174.56C1811.70,1180.70 1819.27,1158.39 1826.84,1156.91C1834.41,1155.43 1841.99,1174.78 1849.56,1188.68C1857.13,1202.58 1864.70,1211.02 1872.27,1195.74C1879.84,1180.46 1887.41,1141.44 1894.98,1135.73C1902.55,1130.02 1910.12,1157.62 1917.69,1160.44C1925.26,1163.26 1932.83,1141.32 1940.40,1149.85C1947.97,1158.38 1955.54,1197.39 1963.11,1178.09C1970.68,1158.79 1978.25,1081.17 1985.82,1075.72C1993.39,1070.27 2000.96,1136.99 2008.53,1171.03C2016.10,1205.07 2023.67,1206.42 2031.24,1192.21C2038.81,1178.00 2046.39,1148.21 2053.96,1139.26C2061.53,1130.31 2069.10,1142.18 2076.67,1156.91C2084.24,1171.64 2091.81,1189.23 2099.38,1167.50C2106.95,1145.77 2114.52,1084.73 2122.09,1093.37C2129.66,1102.01 2137.23,1180.32 2144.80,1181.62C2152.37,1182.92 2159.94,1107.20 2167.51,1103.96C2175.08,1100.72 2182.65,1169.95 2190.22,1188.68C2197.79,1207.41 2205.36,1175.62 2212.93,1149.85C2220.50,1124.08 2228.07,1104.31 2235.64,1107.49C2243.21,1110.67 2250.79,1136.80 2258.36,1125.14C2265.93,1113.48 2273.50,1064.03 2281.07,1068.66C2288.64,1073.29 2296.21,1132.01 2303.78,1167.50C2311.35,1202.99 2318.92,1215.24 2326.49,1185.15C2334.06,1155.06 2341.63,1082.61 2349.20,1089.84C2356.77,1097.07 2364.34,1183.98 2371.91,1192.21C2379.48,1200.44 2387.05,1130.01 2394.62,1103.96C2402.19,1077.91 2409.76,1096.25 2417.33,1114.55C2424.90,1132.85 2432.47,1151.13 2440.04,1128.67C2447.61,1106.21 2455.19,1043.03 2462.76,1054.54C2470.33,1066.05 2477.90,1152.26 2485.47,1178.09C2493.04,1203.92 2500.61,1169.36 2508.18,1135.73C2515.75,1102.10 2523.32,1069.39 2530.89,1079.25C2538.46,1089.11 2546.03,1141.54 2553.60,1163.97C2561.17,1186.40 2568.74,1178.83 2576.31,1142.79C2583.88,1106.75 2591.45,1042.23 2599.02,1051.01C2606.59,1059.79 2614.16,1141.88 2621.73,1174.56C2629.30,1207.24 2636.87,1190.52 2644.44,1171.03C2652.01,1151.54 2659.59,1129.27 2667.16,1103.96C2674.73,1078.65 2682.30,1050.30 2689.87,1065.13C2697.44,1079.96 2705.01,1137.96 2712.58,1167.50C2720.15,1197.04 2727.72,1198.13 2735.29,1181.62C2742.86,1165.11 2750.43,1131.01 2758.00,1096.90" fill="none" stroke="#0db58a" stroke-width="1.9"/>
<path d="M714.00,1106.78C721.57,1119.46 729.14,1132.14 736.71,1140.32C744.28,1148.50 751.85,1152.17 759.42,1136.79C766.99,1121.41 774.56,1086.97 782.13,1060.89C789.70,1034.82 797.27,1017.12 804.84,1004.06C812.41,991.00 819.99,982.60 827.56,1011.83C835.13,1041.06 842.70,1107.92 850.27,1088.07C857.84,1068.23 865.41,961.66 872.98,980.76C880.55,999.87 888.12,1144.64 895.69,1178.44C903.26,1212.25 910.83,1135.09 918.40,1078.90C925.97,1022.71 933.54,987.48 941.11,999.12C948.68,1010.75 956.25,1069.25 963.82,1060.89C971.39,1052.54 978.96,977.34 986.53,983.23C994.10,989.12 1001.67,1076.10 1009.24,1112.08C1016.81,1148.06 1024.39,1133.03 1031.96,1135.73C1039.53,1138.43 1047.10,1158.85 1054.67,1122.32C1062.24,1085.78 1069.81,992.29 1077.38,953.58C1084.95,914.88 1092.52,930.96 1100.09,964.88C1107.66,998.80 1115.23,1050.55 1122.80,1088.78C1130.37,1127.01 1137.94,1151.73 1145.51,1153.73C1153.08,1155.74 1160.65,1135.03 1168.22,1119.14C1175.79,1103.25 1183.36,1092.18 1190.93,1099.02C1198.50,1105.86 1206.07,1130.62 1213.64,1108.20C1221.21,1085.77 1228.79,1016.17 1236.36,999.12C1243.93,982.06 1251.50,1017.56 1259.07,1073.95C1266.64,1130.35 1274.21,1207.65 1281.78,1165.73C1289.35,1123.82 1296.92,962.68 1304.49,954.64C1312.06,946.61 1319.63,1091.68 1327.20,1131.49C1334.77,1171.31 1342.34,1105.87 1349.91,1042.18C1357.48,978.50 1365.05,916.58 1372.62,943.70C1380.19,970.82 1387.76,1086.98 1395.33,1102.19C1402.90,1117.41 1410.47,1031.66 1418.04,1025.24C1425.61,1018.82 1433.19,1091.73 1440.76,1083.84C1448.33,1075.95 1455.90,987.27 1463.47,953.93C1471.04,920.60 1478.61,942.63 1486.18,930.64C1493.75,918.65 1501.32,872.65 1508.89,878.75C1516.46,884.85 1524.03,943.05 1531.60,995.24C1539.17,1047.43 1546.74,1093.60 1554.31,1111.37C1561.88,1129.14 1569.45,1118.50 1577.02,1094.43C1584.59,1070.36 1592.16,1032.85 1599.73,1018.18C1607.30,1003.52 1614.87,1011.69 1622.44,1024.53C1630.01,1037.38 1637.59,1054.88 1645.16,1083.84C1652.73,1112.79 1660.30,1153.20 1667.87,1112.08C1675.44,1070.96 1683.01,948.32 1690.58,906.99C1698.15,865.66 1705.72,905.64 1713.29,936.99C1720.86,968.34 1728.43,991.07 1736.00,977.59C1743.57,964.10 1751.14,914.42 1758.71,913.69C1766.28,912.97 1773.85,961.21 1781.42,1003.35C1788.99,1045.50 1796.56,1081.56 1804.13,1091.61C1811.70,1101.65 1819.27,1085.67 1826.84,1094.43C1834.41,1103.18 1841.99,1136.66 1849.56,1159.73C1857.13,1182.80 1864.70,1195.46 1872.27,1167.15C1879.84,1138.83 1887.41,1069.54 1894.98,1046.77C1902.55,1024.01 1910.12,1047.77 1917.69,1056.66C1925.26,1065.55 1932.83,1059.57 1940.40,1078.90C1947.97,1098.23 1955.54,1142.87 1963.11,1102.90C1970.68,1062.93 1978.25,938.36 1985.82,927.46C1993.39,916.56 2000.96,1019.35 2008.53,1088.78C2016.10,1158.21 2023.67,1194.30 2031.24,1164.68C2038.81,1135.05 2046.39,1039.73 2053.96,1019.24C2061.53,998.75 2069.10,1053.10 2076.67,1094.08C2084.24,1135.05 2091.81,1162.66 2099.38,1104.67C2106.95,1046.67 2114.52,903.07 2122.09,927.46C2129.66,951.85 2137.23,1144.25 2144.80,1145.26C2152.37,1146.28 2159.94,955.92 2167.51,948.99C2175.08,942.07 2182.65,1118.59 2190.22,1157.62C2197.79,1196.65 2205.36,1098.19 2212.93,1046.07C2220.50,993.94 2228.07,988.15 2235.64,993.47C2243.21,998.79 2250.79,1015.23 2258.36,989.23C2265.93,963.24 2273.50,894.83 2281.07,914.05C2288.64,933.26 2296.21,1040.11 2303.78,1112.78C2311.35,1185.46 2318.92,1223.97 2326.49,1152.67C2334.06,1081.38 2341.63,900.27 2349.20,916.16C2356.77,932.06 2364.34,1144.95 2371.91,1163.62C2379.48,1182.28 2387.05,1006.71 2394.62,953.58C2402.19,900.46 2409.76,969.77 2417.33,1006.18C2424.90,1042.58 2432.47,1046.08 2440.04,997.71C2447.61,949.34 2455.19,849.10 2462.76,886.87C2470.33,924.63 2477.90,1100.38 2485.47,1140.32C2493.04,1180.26 2500.61,1084.38 2508.18,1015.36C2515.75,946.34 2523.32,904.18 2530.89,935.23C2538.46,966.27 2546.03,1070.53 2553.60,1104.31C2561.17,1138.09 2568.74,1101.40 2576.31,1030.89C2583.88,960.38 2591.45,856.05 2599.02,881.57C2606.59,907.09 2614.16,1062.46 2621.73,1127.96C2629.30,1193.46 2636.87,1169.09 2644.44,1121.26C2652.01,1073.43 2659.59,1002.14 2667.16,950.76C2674.73,899.38 2682.30,867.91 2689.87,906.99C2697.44,946.06 2705.01,1055.69 2712.58,1114.90C2720.15,1174.11 2727.72,1182.90 2735.29,1145.26C2742.86,1107.62 2750.43,1023.54 2758.00,939.46" fill="none" stroke="#1f55ff" stroke-width="2.1"/>
<text x="850.3" y="1269" text-anchor="middle" font-size="24" fill="#a1a1a1" font-family="Liberation Sans" letter-spacing="0.5">Apr 6</text>
<text x="1009.2" y="1269" text-anchor="middle" font-size="24" fill="#a1a1a1" font-family="Liberation Sans" letter-spacing="0.5">Apr 13</text>
<text x="1168.2" y="1269" text-anchor="middle" font-size="24" fill="#a1a1a1" font-family="Liberation Sans" letter-spacing="0.5">Apr 20</text>
<text x="1327.2" y="1269" text-anchor="middle" font-size="24" fill="#a1a1a1" font-family="Liberation Sans" letter-spacing="0.5">Apr 27</text>
<text x="1486.2" y="1269" text-anchor="middle" font-size="24" fill="#a1a1a1" font-family="Liberation Sans" letter-spacing="0.5">May 4</text>
<text x="1645.2" y="1269" text-anchor="middle" font-size="24" fill="#a1a1a1" font-family="Liberation Sans" letter-spacing="0.5">May 11</text>
<text x="1804.1" y="1269" text-anchor="middle" font-size="24" fill="#a1a1a1" font-family="Liberation Sans" letter-spacing="0.5">May 18</text>
<text x="1963.1" y="1269" text-anchor="middle" font-size="24" fill="#a1a1a1" font-family="Liberation Sans" letter-spacing="0.5">May 25</text>
<text x="2122.1" y="1269" text-anchor="middle" font-size="24" fill="#a1a1a1" font-family="Liberation Sans" letter-spacing="0.5">Jun 1</text>
<text x="2281.1" y="1269" text-anchor="middle" font-size="24" fill="#a1a1a1" font-family="Liberation Sans" letter-spacing="0.5">Jun 8</text>
<text x="2440.0" y="1269" text-anchor="middle" font-size="24" fill="#a1a1a1" font-family="Liberation Sans" letter-spacing="0.5">Jun 15</text>
<text x="2599.0" y="1269" text-anchor="middle" font-size="24" fill="#a1a1a1" font-family="Liberation Sans" letter-spacing="0.5">Jun 22</text>
<text x="2758.0" y="1269" text-anchor="middle" font-size="24" fill="#a1a1a1" font-family="Liberation Sans" letter-spacing="0.5">Jun 29</text>
</svg>
<div class="abs" style="left:794.5px;top:658px;width:10px;height:10px;border-radius:2px;background:#04a784"></div>
<div class="t" style="left:811px;top:655px;font-size:12px;line-height:16px;font-weight:400;letter-spacing:0.025px;">Mobile</div>
<div class="abs" style="left:863.5px;top:658px;width:10px;height:10px;border-radius:2px;background:#1847e6"></div>
<div class="t" style="left:880px;top:655px;font-size:12px;line-height:16px;font-weight:400;letter-spacing:0.109px;">Desktop</div>
<div class="abs" style="left:312px;top:720px;width:504.5px;height:36px;border-radius:10px;background:#262626"></div>
<div class="abs" style="left:315px;top:723.5px;width:66px;height:29px;border-radius:8px;border:1px solid rgba(255,255,255,0.15);background:rgba(255,255,255,0.045)"></div>
<div class="t" style="left:324px;top:728px;font-size:14px;line-height:20px;font-weight:400;letter-spacing:0.471px;-webkit-text-stroke:0.28px currentColor;">Outline</div>
<div class="t" style="left:390px;top:728px;font-size:14px;line-height:20px;font-weight:400;color:#a1a1a1;letter-spacing:0.316px;-webkit-text-stroke:0.28px currentColor;">Past Performance</div>
<div class="t" style="left:513px;top:728px;width:20px;height:20px;border-radius:50%;background:#404040;font-size:12px;line-height:20px;text-align:center">3</div>
<div class="t" style="left:551px;top:728px;font-size:14px;line-height:20px;font-weight:400;color:#a1a1a1;letter-spacing:0.171px;-webkit-text-stroke:0.28px currentColor;">Key Personnel</div>
<div class="t" style="left:650px;top:728px;width:20px;height:20px;border-radius:50%;background:#404040;font-size:12px;line-height:20px;text-align:center">2</div>
<div class="t" style="left:687.5px;top:728px;font-size:14px;line-height:20px;font-weight:400;color:#a1a1a1;letter-spacing:0.406px;-webkit-text-stroke:0.28px currentColor;">Focus Documents</div>
<div class="abs" style="left:1079px;top:722px;width:196.5px;height:32px;border-radius:8px;border:1px solid rgba(255,255,255,0.15);background:rgba(255,255,255,0.045)"></div>
<svg viewBox="0 0 24 24" style="position:absolute;fill:none;stroke:currentColor;stroke-width:2;stroke-linecap:round;stroke-linejoin:round;left:1090px;top:730px;width:16px;height:16px"><path d="M4 4m0 2a2 2 0 0 1 2 -2h12a2 2 0 0 1 2 2v12a2 2 0 0 1 -2 2h-12a2 2 0 0 1 -2 -2z"/><path d="M12 4l0 16"/></svg>
<div class="t" style="left:1112px;top:728px;font-size:14px;line-height:20px;font-weight:400;letter-spacing:0.359px;-webkit-text-stroke:0.28px currentColor;">Customize Columns</div>
<svg viewBox="0 0 24 24" style="position:absolute;fill:none;stroke:currentColor;stroke-width:2;stroke-linecap:round;stroke-linejoin:round;left:1251px;top:730px;width:16px;height:16px"><path d="M6 9l6 6l6 -6"/></svg>
<div class="abs" style="left:1284.5px;top:722px;width:123px;height:32px;border-radius:8px;border:1px solid rgba(255,255,255,0.15);background:rgba(255,255,255,0.045)"></div>
<svg viewBox="0 0 24 24" style="position:absolute;fill:none;stroke:currentColor;stroke-width:2;stroke-linecap:round;stroke-linejoin:round;left:1295.5px;top:730px;width:16px;height:16px"><path d="M12 5l0 14"/><path d="M5 12l14 0"/></svg>
<div class="t" style="left:1317.5px;top:728px;font-size:14px;line-height:20px;font-weight:400;letter-spacing:0.429px;-webkit-text-stroke:0.28px currentColor;">Add Section</div>
<div class="abs" style="left:312px;top:780px;width:1096px;height:200px;border:1px solid rgba(255,255,255,0.1);border-radius:10px;overflow:hidden;background:#0a0a0a"><div class="abs" style="left:0;top:0;width:1096px;height:40px;background:#262626"></div><div class="abs" style="left:0;top:40px;width:1096px;height:1px;background:rgba(255,255,255,0.1)"></div><div class="abs" style="left:0;top:93px;width:1096px;height:1px;background:rgba(255,255,255,0.1)"></div></div>
<div class="abs" style="left:366px;top:793px;width:16px;height:16px;border-radius:4px;border:1px solid rgba(255,255,255,0.15);background:rgba(255,255,255,0.045)"></div>
<div class="t" style="left:392px;top:791px;font-size:14px;line-height:20px;font-weight:400;letter-spacing:0.239px;-webkit-text-stroke:0.28px currentColor;">Header</div>
<div class="t" style="left:727px;top:791px;font-size:14px;line-height:20px;font-weight:400;letter-spacing:0.245px;-webkit-text-stroke:0.28px currentColor;">Section Type</div>
<div class="t" style="left:885.5px;top:791px;font-size:14px;line-height:20px;font-weight:400;letter-spacing:0.542px;-webkit-text-stroke:0.28px currentColor;">Status</div>
<div class="t" style="left:992px;top:791px;width:80px;text-align:right;font-size:14px;line-height:20px;letter-spacing:0.396px;-webkit-text-stroke:0.28px currentColor;">Target</div>
<div class="t" style="left:1080.5px;top:791px;width:80px;text-align:right;font-size:14px;line-height:20px;letter-spacing:0.708px;-webkit-text-stroke:0.28px currentColor;">Limit</div>
<div class="t" style="left:1177.5px;top:791px;font-size:14px;line-height:20px;font-weight:400;letter-spacing:0.237px;-webkit-text-stroke:0.28px currentColor;">Reviewer</div>
<svg viewBox="0 0 24 24" style="position:absolute;fill:none;stroke:currentColor;stroke-width:2;stroke-linecap:round;stroke-linejoin:round;left:329px;top:841.5px;width:12px;height:12px;color:#a1a1a1"><path d="M9 5m-1 0a1 1 0 1 0 2 0a1 1 0 1 0 -2 0"/><path d="M9 12m-1 0a1 1 0 1 0 2 0a1 1 0 1 0 -2 0"/><path d="M9 19m-1 0a1 1 0 1 0 2 0a1 1 0 1 0 -2 0"/><path d="M15 5m-1 0a1 1 0 1 0 2 0a1 1 0 1 0 -2 0"/><path d="M15 12m-1 0a1 1 0 1 0 2 0a1 1 0 1 0 -2 0"/><path d="M15 19m-1 0a1 1 0 1 0 2 0a1 1 0 1 0 -2 0"/></svg>
<div class="abs" style="left:366px;top:839.5px;width:16px;height:16px;border-radius:4px;border:1px solid rgba(255,255,255,0.15);background:rgba(255,255,255,0.045)"></div>
<div class="t" style="left:392px;top:837.5px;font-size:14px;line-height:20px;font-weight:400;letter-spacing:0.123px;-webkit-text-stroke:0.28px currentColor;">Cover page</div>
<div class="t" style="left:727px;top:837.0px;height:21px;padding:0 6px;border:1px solid rgba(255,255,255,0.1);border-radius:8px;font-size:12px;line-height:19px;color:#a1a1a1;letter-spacing:0.159px;-webkit-text-stroke:0.28px currentColor;">Cover page</div>
<div class="t" style="left:885px;top:837.0px;height:21px;padding:0 6px;border:1px solid rgba(255,255,255,0.1);border-radius:8px;font-size:12px;line-height:19px;color:#a1a1a1;letter-spacing:0.257px;-webkit-text-stroke:0.28px currentColor;"><svg viewBox="0 0 24 24" style="fill:none;stroke:currentColor;stroke-width:2;stroke-linecap:round;stroke-linejoin:round;display:inline-block;width:12px;height:12px;vertical-align:-2px;margin-right:4px"><path d="M12 6l0 -3"/><path d="M16.25 7.75l2.15 -2.15"/><path d="M18 12l3 0"/><path d="M16.25 16.25l2.15 2.15"/><path d="M12 18l0 3"/><path d="M7.75 16.25l-2.15 2.15"/><path d="M6 12l-3 0"/><path d="M7.75 7.75l-2.15 -2.15"/></svg>In Process</div>
<div class="t" style="left:1012px;top:837.5px;width:40px;text-align:right;font-size:14px;line-height:20px;letter-spacing:0.000px;">18</div>
<div class="t" style="left:1100px;top:837.5px;width:40px;text-align:right;font-size:14px;line-height:20px;letter-spacing:0.000px;">5</div>
<div class="t" style="left:1177.5px;top:837.5px;font-size:14px;line-height:20px;font-weight:400;letter-spacing:-0.030px;">Eddie Lake</div>
<svg viewBox="0 0 24 24" style="position:absolute;fill:none;stroke:currentColor;stroke-width:2;stroke-linecap:round;stroke-linejoin:round;left:1370px;top:839.5px;width:16px;height:16px;color:#a1a1a1"><path d="M12 12m-1 0a1 1 0 1 0 2 0a1 1 0 1 0 -2 0"/><path d="M12 19m-1 0a1 1 0 1 0 2 0a1 1 0 1 0 -2 0"/><path d="M12 5m-1 0a1 1 0 1 0 2 0a1 1 0 1 0 -2 0"/></svg>
<svg viewBox="0 0 24 24" style="position:absolute;fill:none;stroke:currentColor;stroke-width:2;stroke-linecap:round;stroke-linejoin:round;left:329px;top:894.5px;width:12px;height:12px;color:#a1a1a1"><path d="M9 5m-1 0a1 1 0 1 0 2 0a1 1 0 1 0 -2 0"/><path d="M9 12m-1 0a1 1 0 1 0 2 0a1 1 0 1 0 -2 0"/><path d="M9 19m-1 0a1 1 0 1 0 2 0a1 1 0 1 0 -2 0"/><path d="M15 5m-1 0a1 1 0 1 0 2 0a1 1 0 1 0 -2 0"/><path d="M15 12m-1 0a1 1 0 1 0 2 0a1 1 0 1 0 -2 0"/><path d="M15 19m-1 0a1 1 0 1 0 2 0a1 1 0 1 0 -2 0"/></svg>
<div class="abs" style="left:366px;top:892.5px;width:16px;height:16px;border-radius:4px;border:1px solid rgba(255,255,255,0.15);background:rgba(255,255,255,0.045)"></div>
<div class="t" style="left:392px;top:890.5px;font-size:14px;line-height:20px;font-weight:400;letter-spacing:0.370px;-webkit-text-stroke:0.28px currentColor;">Table of contents</div>
<div class="t" style="left:727px;top:890.0px;height:21px;padding:0 6px;border:1px solid rgba(255,255,255,0.1);border-radius:8px;font-size:12px;line-height:19px;color:#a1a1a1;letter-spacing:0.370px;-webkit-text-stroke:0.28px currentColor;">Table of contents</div>
<div class="t" style="left:885px;top:890.0px;height:21px;padding:0 6px;border:1px solid rgba(255,255,255,0.1);border-radius:8px;font-size:12px;line-height:19px;color:#a1a1a1;letter-spacing:0.000px;-webkit-text-stroke:0.28px currentColor;"><svg viewBox="0 0 24 24" style="display:inline-block;width:12px;height:12px;vertical-align:-2px;margin-right:4px"><circle cx="12" cy="12" r="10" fill="#0ea67c"/><path d="M8 12l3 3l5 -5" fill="none" stroke="#0a0a0a" stroke-width="2"/></svg>Done</div>
<div class="t" style="left:1012px;top:890.5px;width:40px;text-align:right;font-size:14px;line-height:20px;letter-spacing:0.000px;">29</div>
<div class="t" style="left:1100px;top:890.5px;width:40px;text-align:right;font-size:14px;line-height:20px;letter-spacing:0.000px;">24</div>
<div class="t" style="left:1177.5px;top:890.5px;font-size:14px;line-height:20px;font-weight:400;letter-spacing:-0.030px;">Eddie Lake</div>
<svg viewBox="0 0 24 24" style="position:absolute;fill:none;stroke:currentColor;stroke-width:2;stroke-linecap:round;stroke-linejoin:round;left:1370px;top:892.5px;width:16px;height:16px;color:#a1a1a1"><path d="M12 12m-1 0a1 1 0 1 0 2 0a1 1 0 1 0 -2 0"/><path d="M12 19m-1 0a1 1 0 1 0 2 0a1 1 0 1 0 -2 0"/><path d="M12 5m-1 0a1 1 0 1 0 2 0a1 1 0 1 0 -2 0"/></svg>
</div></body></html>
